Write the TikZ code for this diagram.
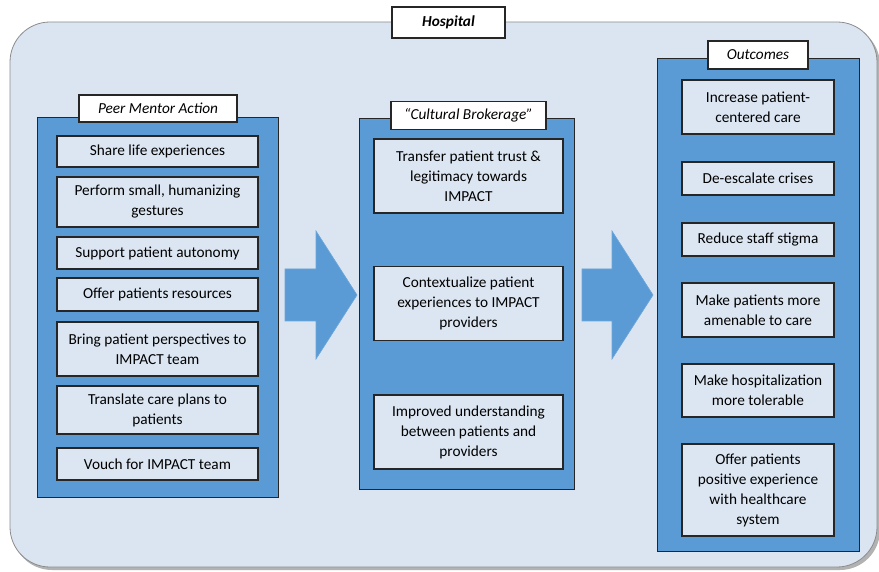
\documentclass[tikz,border=0pt]{standalone}
\usepackage{fontspec}
\setmainfont{Carlito}
\definecolor{hospfill}{HTML}{DBE5F1}
\definecolor{hospline}{HTML}{8C8C8C}
\definecolor{panelblue}{HTML}{5B9BD5}
\definecolor{itemfill}{HTML}{DCE6F2}
\definecolor{inkline}{HTML}{262626}
\begin{document}
\begin{tikzpicture}[x=1pt,y=-1pt,
  every node/.style={inner sep=0pt, outer sep=0pt},
  panel/.style={draw=inkline, line width=1pt, fill=panelblue, rectangle},
  itembox/.style={draw=inkline, line width=1.4pt, fill=itemfill, rectangle,
    align=center, font=\fontsize{15.3}{20}\selectfont},
  tag/.style={draw=inkline, line width=1.2pt, fill=white, rectangle,
    align=center, font=\fontsize{15.3}{18}\selectfont\itshape},
  flow/.style={fill=panelblue, draw=panelblue!90!white, line width=0.6pt}
]
\useasboundingbox (0,0) rectangle (879,572);

% hospital frame with a soft drop shadow
\fill[black!30, rounded corners=40pt] (12,25) rectangle (880,570);
\filldraw[fill=hospfill, draw=hospline, line width=0.8pt, rounded corners=40pt]
  (10,22) rectangle (877,567);
\node[tag, font=\fontsize{15.3}{18}\selectfont\bfseries\itshape,
  minimum width=113pt, minimum height=31pt] (hosp) at (448.5,22.5) {Hospital};

% column panels
\node[panel, minimum width=241pt, minimum height=379pt] (peer) at (157.5,307.5) {};
\node[panel, minimum width=215pt, minimum height=370pt] (broker) at (466.5,304) {};
\node[panel, minimum width=202pt, minimum height=492pt] (outc) at (758,305) {};

% panel titles
\node[tag, minimum width=158pt, minimum height=27pt] (peerT) at (158,108.5) {Peer Mentor Action};
\node[tag, minimum width=155pt, minimum height=28pt] (brokerT) at (468.5,115.5) {“Cultural Brokerage”};
\node[tag, minimum width=100pt, minimum height=28pt] (outcT) at (758,55) {Outcomes};

% peer mentor actions
\begin{scope}[every node/.append style={itembox, minimum width=201pt}]
\node[minimum height=31pt] (p1) at (157.5,151.5) {Share life experiences};
\node[minimum height=50pt] (p2) at (157.5,202) {Perform small, humanizing\\gestures};
\node[minimum height=32pt] (p3) at (157.5,253) {Support patient autonomy};
\node[minimum height=33pt] (p4) at (157.5,294.5) {Offer patients resources};
\node[minimum height=54pt] (p5) at (157.5,349) {Bring patient perspectives to\\IMPACT team};
\node[minimum height=48pt] (p6) at (157.5,410) {Translate care plans to\\patients};
\node[minimum height=32pt] (p7) at (157.5,464) {Vouch for IMPACT team};
\end{scope}

% cultural brokerage
\begin{scope}[every node/.append style={itembox, minimum width=189pt, minimum height=74pt}]
\node (m1) at (468.5,176) {Transfer patient trust \&\\legitimacy towards\\IMPACT};
\node (m2) at (468.5,303.5) {Contextualize patient\\experiences to IMPACT\\providers};
\node (m3) at (468.5,432) {Improved understanding\\between patients and\\providers};
\end{scope}

% outcomes
\begin{scope}[every node/.append style={itembox, minimum width=152pt}]
\node[minimum height=54pt] (o1) at (758,107) {Increase patient-\\centered care};
\node[minimum height=33pt] (o2) at (758,178.5) {De-escalate crises};
\node[minimum height=33pt] (o3) at (758,239.5) {Reduce staff stigma};
\node[minimum height=54pt] (o4) at (758,310) {Make patients more\\amenable to care};
\node[minimum height=53pt] (o5) at (758,390.5) {Make hospitalization\\more tolerable};
\node[minimum height=92pt] (o6) at (758,490) {Offer patients\\positive experience\\with healthcare\\system};
\end{scope}

% block arrows between the columns
\filldraw[flow] (285,269) -- (316,269) -- (316,231) -- (357,295) -- (316,359)
  -- (316,321) -- (285,321) -- cycle;
\filldraw[flow] (582,269) -- (612,269) -- (612,231) -- (653,295) -- (612,359)
  -- (612,321) -- (582,321) -- cycle;
\end{tikzpicture}
\end{document}
